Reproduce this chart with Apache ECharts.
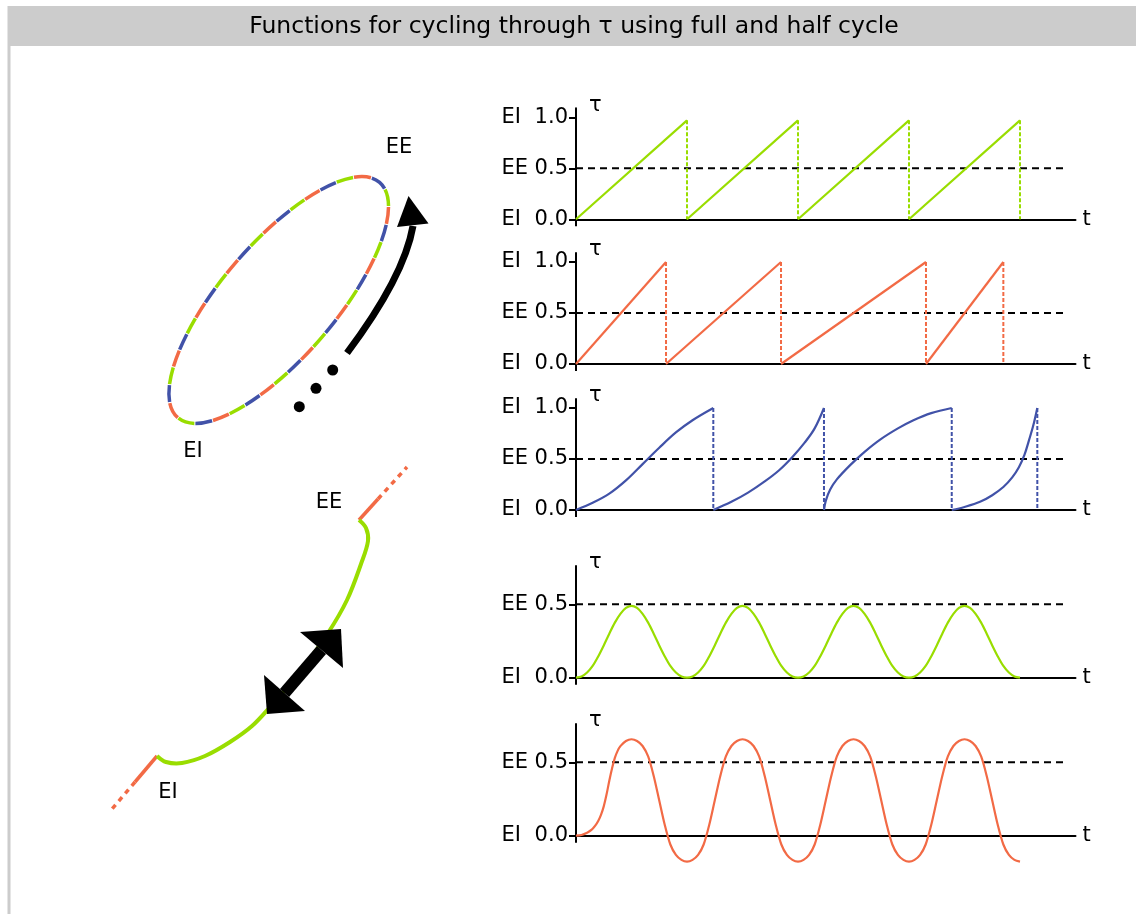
<!DOCTYPE html>
<html><head><meta charset="utf-8">
<script src="https://cdn.jsdelivr.net/npm/echarts@6/dist/echarts.min.js"></script>
<style>html,body{margin:0;padding:0;background:#fff}#main{width:1136px;height:914px}</style>
</head><body><div id="main"></div>
<script>
// ---------------- DATA ----------------
const TITLE = 'Functions for cycling through τ using full and half cycle';
const xName = 't';
const yName = 'τ';
const tickValuesFull = [0, 0.5, 1.0];
const tickNamesFull = ['EI', 'EE', 'EI'];
const tickValuesHalf = [0, 0.5];
const tickNamesHalf = ['EI', 'EE'];
const refLevel = 0.5;
const refLineEnd = 4.405;

// chart 1: full cycle, constant period (green)
const ramp1 = [
  [[0, 0], [1, 0.97]],
  [[1, 0], [2, 0.97]],
  [[2, 0], [3, 0.97]],
  [[3, 0], [4, 0.97]]
];
// chart 2: full cycle, varying period (orange)
const ramp2 = [
  [[0, 0], [0.811, 1]],
  [[0.811, 0], [1.847, 1]],
  [[1.847, 0], [3.153, 1]],
  [[3.153, 0], [3.85, 1]]
];
// chart 3: full cycle, non-linear (blue)
const ramp3 = [
  [[0, 0], [0.15, 0.07], [0.3, 0.16], [0.45, 0.29], [0.6, 0.45], [0.75, 0.61], [0.9, 0.76], [1.05, 0.88], [1.237, 1.0]],
  [[1.237, 0], [1.4, 0.08], [1.55, 0.17], [1.7, 0.28], [1.83, 0.39], [1.95, 0.52], [2.06, 0.66], [2.15, 0.8], [2.234, 1.0]],
  [[2.234, 0], [2.25, 0.09], [2.29, 0.2], [2.35, 0.3], [2.47, 0.44], [2.6, 0.57], [2.74, 0.69], [2.9, 0.8], [3.04, 0.88], [3.2, 0.95], [3.385, 1.0]],
  [[3.385, 0], [3.5, 0.03], [3.64, 0.08], [3.75, 0.145], [3.85, 0.225], [3.93, 0.32], [3.99, 0.42], [4.04, 0.54], [4.08, 0.68], [4.12, 0.83], [4.156, 1.0]]
];
// chart 4: half cycle (green)
const wave4 = [
  [0, 0], [0.05, 0.008], [0.1, 0.035], [0.15, 0.08], [0.2, 0.145], [0.25, 0.22], [0.3, 0.3], [0.35, 0.375], [0.4, 0.435], [0.45, 0.475],
  [0.5, 0.49], [0.55, 0.475], [0.6, 0.435], [0.65, 0.375], [0.7, 0.3], [0.75, 0.22], [0.8, 0.145], [0.85, 0.08], [0.9, 0.035], [0.95, 0.008],
  [1, 0], [1.05, 0.008], [1.1, 0.035], [1.15, 0.08], [1.2, 0.145], [1.25, 0.22], [1.3, 0.3], [1.35, 0.375], [1.4, 0.435], [1.45, 0.475],
  [1.5, 0.49], [1.55, 0.475], [1.6, 0.435], [1.65, 0.375], [1.7, 0.3], [1.75, 0.22], [1.8, 0.145], [1.85, 0.08], [1.9, 0.035], [1.95, 0.008],
  [2, 0], [2.05, 0.008], [2.1, 0.035], [2.15, 0.08], [2.2, 0.145], [2.25, 0.22], [2.3, 0.3], [2.35, 0.375], [2.4, 0.435], [2.45, 0.475],
  [2.5, 0.49], [2.55, 0.475], [2.6, 0.435], [2.65, 0.375], [2.7, 0.3], [2.75, 0.22], [2.8, 0.145], [2.85, 0.08], [2.9, 0.035], [2.95, 0.008],
  [3, 0], [3.05, 0.008], [3.1, 0.035], [3.15, 0.08], [3.2, 0.145], [3.25, 0.22], [3.3, 0.3], [3.35, 0.375], [3.4, 0.435], [3.45, 0.475],
  [3.5, 0.49], [3.55, 0.475], [3.6, 0.435], [3.65, 0.375], [3.7, 0.3], [3.75, 0.22], [3.8, 0.145], [3.85, 0.08], [3.9, 0.035], [3.95, 0.008],
  [4, 0]
];
// chart 5: half cycle with overshoot (orange)
const wave5 = [
  [0, 0], [0.05, 0.005], [0.1, 0.02], [0.125, 0.032], [0.15, 0.048], [0.175, 0.07], [0.2, 0.1], [0.225, 0.142], [0.25, 0.2],
  [0.275, 0.28], [0.3, 0.375], [0.325, 0.46], [0.35, 0.53], [0.375, 0.578], [0.4, 0.61], [0.45, 0.645],
  [0.5, 0.657], [0.55, 0.645], [0.6, 0.611], [0.65, 0.54], [0.7, 0.407], [0.75, 0.24], [0.8, 0.073], [0.85, -0.06], [0.9, -0.131], [0.95, -0.165],
  [1, -0.177], [1.05, -0.165], [1.1, -0.131], [1.15, -0.06], [1.2, 0.073], [1.25, 0.24], [1.3, 0.407], [1.35, 0.54], [1.4, 0.611], [1.45, 0.645],
  [1.5, 0.657], [1.55, 0.645], [1.6, 0.611], [1.65, 0.54], [1.7, 0.407], [1.75, 0.24], [1.8, 0.073], [1.85, -0.06], [1.9, -0.131], [1.95, -0.165],
  [2, -0.177], [2.05, -0.165], [2.1, -0.131], [2.15, -0.06], [2.2, 0.073], [2.25, 0.24], [2.3, 0.407], [2.35, 0.54], [2.4, 0.611], [2.45, 0.645],
  [2.5, 0.657], [2.55, 0.645], [2.6, 0.611], [2.65, 0.54], [2.7, 0.407], [2.75, 0.24], [2.8, 0.073], [2.85, -0.06], [2.9, -0.131], [2.95, -0.165],
  [3, -0.177], [3.05, -0.165], [3.1, -0.131], [3.15, -0.06], [3.2, 0.073], [3.25, 0.24], [3.3, 0.407], [3.35, 0.54], [3.4, 0.611], [3.45, 0.645],
  [3.5, 0.657], [3.55, 0.645], [3.6, 0.611], [3.65, 0.54], [3.7, 0.407], [3.75, 0.24], [3.8, 0.073], [3.85, -0.06], [3.9, -0.131], [3.95, -0.165],
  [4, -0.177]
];

// ---------------- LAYOUT / STYLE ----------------
const FONT = '"DejaVu Sans", sans-serif';
const GREEN = '#99dd00', ORANGE = '#f26a45', BLUE = '#4152a8';
const gridLeft = 576, gridWidth = 499.5;
const gridBottoms = [219.3, 364, 510, 677.7, 835.7];
const gridHeights = [111, 111, 111, 111.7, 111.7];
const yMaxes = [1.088, 1.088, 1.088, 0.761, 0.761];

const grids = [], xAxes = [], yAxes = [], series = [];
for (let i = 0; i < 5; i++) {
  const full = i < 3;
  const tv = full ? tickValuesFull : tickValuesHalf;
  const tn = full ? tickNamesFull : tickNamesHalf;
  grids.push({left: gridLeft, width: gridWidth, top: gridBottoms[i] - gridHeights[i], height: gridHeights[i]});
  xAxes.push({
    type: 'value', gridIndex: i, min: 0, max: 4.5,
    axisLine: {show: true, onZero: false, lineStyle: {color: '#000', width: 2}},
    axisTick: {show: true, customValues: [0], length: 7, lineStyle: {color: '#000', width: 2}},
    axisLabel: {show: false}, splitLine: {show: false},
    name: xName, nameLocation: 'end', nameGap: 7,
    nameTextStyle: {color: '#000', fontSize: 21, fontFamily: FONT, align: 'left', verticalAlign: 'middle'}
  });
  yAxes.push({
    type: 'value', gridIndex: i, min: 0, max: yMaxes[i],
    axisLine: {show: true, onZero: false, lineStyle: {color: '#000', width: 2}},
    axisTick: {show: true, customValues: tv, length: 7, lineStyle: {color: '#000', width: 2}},
    axisLabel: {
      show: true, customValues: tv, margin: 8, color: '#000', fontSize: 21, fontFamily: FONT,
      formatter: function (v) {
        const k = tv.findIndex(x => Math.abs(x - v) < 1e-9);
        return '{n|' + tn[k] + '}{v|' + v.toFixed(1) + '}';
      },
      rich: {
        n: {width: 33, align: 'left', fontSize: 21, fontFamily: FONT, color: '#000'},
        v: {fontSize: 21, fontFamily: FONT, color: '#000'}
      }
    },
    splitLine: {show: false},
    name: yName, nameLocation: 'end', nameGap: 3,
    nameTextStyle: {color: '#000', fontSize: 21, fontFamily: FONT, align: 'left', verticalAlign: 'middle', padding: [0, 0, 0, 13]}
  });
  // reference dashed line at EE
  series.push({
    type: 'line', xAxisIndex: i, yAxisIndex: i, data: [[0, refLevel], [refLineEnd, refLevel]],
    symbol: 'none', lineStyle: {color: '#000', width: 2, type: [7, 5]}, z: 1, silent: true
  });
}

function addRamps(gi, segs, color, smooth) {
  segs.forEach(seg => {
    series.push({
      type: 'line', xAxisIndex: gi, yAxisIndex: gi, data: seg, symbol: 'none', smooth: smooth,
      lineStyle: {color: color, width: 2.2}, z: 3, clip: false, silent: true
    });
    const last = seg[seg.length - 1];
    series.push({
      type: 'line', xAxisIndex: gi, yAxisIndex: gi, data: [[last[0], last[1]], [last[0], 0]], symbol: 'none',
      lineStyle: {color: color, width: 2, type: [4, 2]}, z: 2, clip: false, silent: true
    });
  });
}
addRamps(0, ramp1, GREEN, false);
addRamps(1, ramp2, ORANGE, false);
addRamps(2, ramp3, BLUE, 0.35);
series.push({type: 'line', xAxisIndex: 3, yAxisIndex: 3, data: wave4, symbol: 'none', smooth: 0.3,
  lineStyle: {color: GREEN, width: 2.2}, z: 3, clip: false, silent: true});
series.push({type: 'line', xAxisIndex: 4, yAxisIndex: 4, data: wave5, symbol: 'none', smooth: 0.3,
  lineStyle: {color: ORANGE, width: 2.2}, z: 3, clip: false, silent: true});

// ---------------- ILLUSTRATIONS (left side) ----------------
const L = 18;
function label(text, x, y) {
  return {type: 'text', x: x, y: y, style: {text: text, font: '21px ' + FONT, fill: '#000',
    align: 'center', verticalAlign: 'middle', textAlign: 'center', textVerticalAlign: 'middle'}};
}
function ell(color, offset) {
  return {type: 'ellipse', x: 278.7, y: 300, rotation: 0.862, shape: {cx: 0, cy: 0, rx: 155, ry: 57},
    style: {fill: 'none', stroke: color, lineWidth: 3.5, lineDash: [L - 1, 2 * L + 1], lineDashOffset: offset}};
}
const graphics = [
  {type: 'rect', shape: {x: 7.5, y: 6, width: 1130, height: 40}, style: {fill: '#cccccc'}, z: -10},
  {type: 'rect', shape: {x: 7.5, y: 46, width: 3, height: 870}, style: {fill: '#cccccc'}, z: -10},
  {type: 'text', x: 574, y: 27, style: {text: TITLE, font: '23.5px ' + FONT, fill: '#000',
    align: 'center', verticalAlign: 'middle', textAlign: 'center', textVerticalAlign: 'middle'}},
  ell(ORANGE, 0), ell(BLUE, 2 * L), ell(GREEN, L),
  {type: 'bezierCurve', shape: {x1: 347, y1: 353, cpx1: 404, cpy1: 277, x2: 413, y2: 226},
    style: {stroke: '#000', lineWidth: 7, fill: 'none'}},
  {type: 'polygon', shape: {points: [[408.5, 196], [428.5, 223.5], [397, 227]]}, style: {fill: '#000'}},
  {type: 'circle', shape: {cx: 299.3, cy: 406.7, r: 5.5}, style: {fill: '#000'}},
  {type: 'circle', shape: {cx: 316, cy: 388.3, r: 5.5}, style: {fill: '#000'}},
  {type: 'circle', shape: {cx: 332.7, cy: 370, r: 5.5}, style: {fill: '#000'}},
  label('EE', 399, 148), label('EI', 193, 452),
  // lower illustration
  {type: 'line', shape: {x1: 359, y1: 520, x2: 378, y2: 499}, style: {stroke: ORANGE, lineWidth: 3.5}},
  {type: 'line', shape: {x1: 378, y1: 499, x2: 407, y2: 467}, style: {stroke: ORANGE, lineWidth: 3.5, lineDash: [5, 5]}},
  {type: 'line', shape: {x1: 157, y1: 756, x2: 135, y2: 782}, style: {stroke: ORANGE, lineWidth: 3.5}},
  {type: 'line', shape: {x1: 135, y1: 782, x2: 112, y2: 809}, style: {stroke: ORANGE, lineWidth: 3.5, lineDash: [5, 5]}},
  {type: 'polyline', shape: {smooth: 0.35, points: [[157, 756], [166, 762], [182, 763], [205, 756], [230, 742], [252, 726], [270, 707],
    [300, 672], [328, 633], [347, 600], [361, 564], [368, 541], [366, 528], [359, 520]]},
    style: {stroke: GREEN, lineWidth: 4, fill: 'none'}},
  {type: 'line', shape: {x1: 284.5, y1: 693, x2: 321.5, y2: 650}, style: {stroke: '#000', lineWidth: 12}, z: 5},
  {type: 'polygon', shape: {points: [[300, 632], [341, 629], [343, 668]]}, style: {fill: '#000'}, z: 5},
  {type: 'polygon', shape: {points: [[264, 675], [267, 714], [305, 711]]}, style: {fill: '#000'}, z: 5},
  label('EE', 329, 503), label('EI', 168, 793)
];

const chart = echarts.init(document.getElementById('main'), null, {renderer: 'canvas'});
chart.setOption({
  animation: false,
  backgroundColor: '#ffffff',
  grid: grids, xAxis: xAxes, yAxis: yAxes, series: series,
  graphic: {elements: graphics}
});
</script></body></html>
